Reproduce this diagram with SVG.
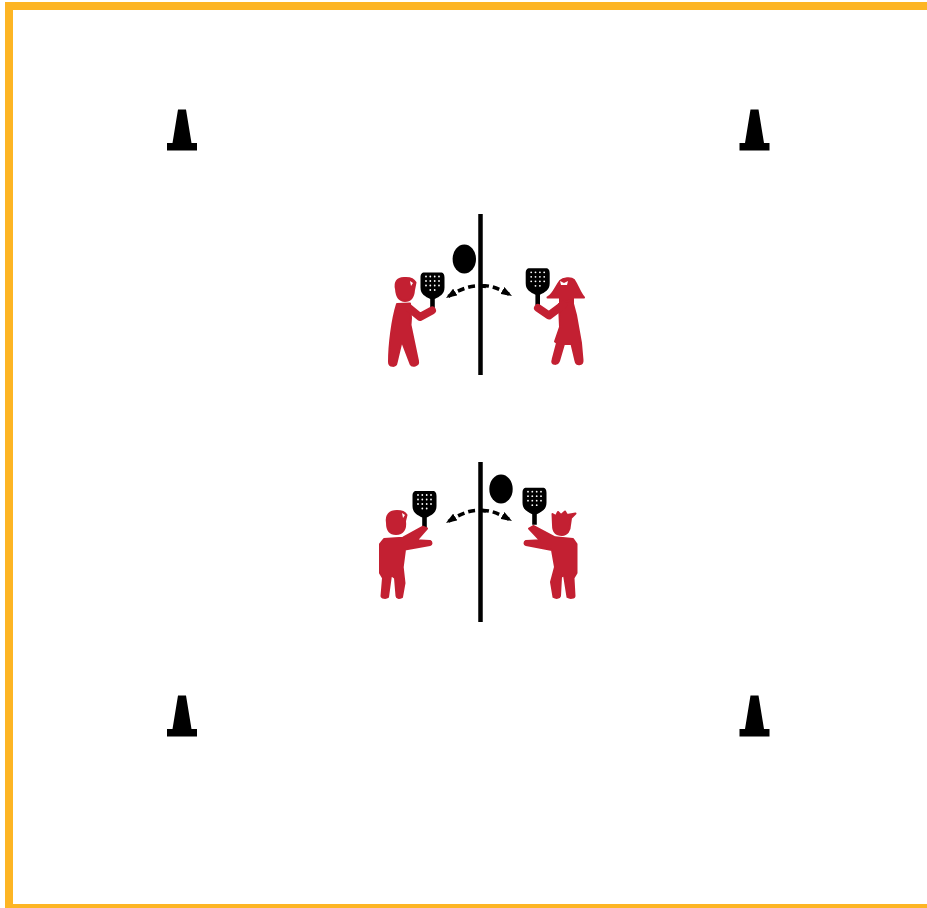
<svg xmlns="http://www.w3.org/2000/svg" width="927" height="908" viewBox="0 0 927 908">
<style>
.red{fill:#c32032;stroke:#c32032;stroke-width:2;stroke-linejoin:round}
.limb{fill:none;stroke:#c32032;stroke-linecap:round;stroke-linejoin:round}
.net{stroke:#000;stroke-width:4.500;fill:none}
.arc{fill:none;stroke:#000;stroke-width:3.500;stroke-dasharray:7 4}
.dot{fill:#fff}
</style>
<defs>
<marker id="ah" markerUnits="userSpaceOnUse" markerWidth="12" markerHeight="8" refX="11" refY="4" orient="auto"><path d="M0,0L11,4L0,8Z" fill="#000"/></marker>
<g id="cone"><path d="M-4,0H4L9.500,33.500H15V41H-15V33.500H-9.500Z" fill="#000"/></g>
<g id="paddle">
<path d="M-8,0H8C11,0 12,2 12,5V15C12,22 7,24 2.300,26.500V37H-2.300V26.500C-7,24 -12,22 -12,15V5C-12,2 -11,0 -8,0Z" fill="#000"/>
<g class="dot"><circle cx="-6.500" cy="4" r=".9"/><circle cx="-2.200" cy="4" r=".9"/><circle cx="2.200" cy="4" r=".9"/><circle cx="6.500" cy="4" r=".9"/><circle cx="-6.500" cy="8.500" r=".9"/><circle cx="-2.200" cy="8.500" r=".9"/><circle cx="2.200" cy="8.500" r=".9"/><circle cx="6.500" cy="8.500" r=".9"/><circle cx="-6.500" cy="13" r=".9"/><circle cx="-2.200" cy="13" r=".9"/><circle cx="2.200" cy="13" r=".9"/><circle cx="6.500" cy="13" r=".9"/><circle cx="-2.200" cy="17.500" r=".9"/><circle cx="2.200" cy="17.500" r=".9"/></g>
</g>
</defs>
<rect width="927" height="908" fill="#fff"/>
<g id="border" fill="#fdb524"><rect x="5" y="2" width="922" height="8"/><rect x="5" y="2" width="8" height="906"/><rect x="5" y="904" width="922" height="4"/></g>
<g id="cone-tl"><use href="#cone" x="182" y="109.500"/></g>
<g id="cone-tr"><use href="#cone" x="754.500" y="109.500"/></g>
<g id="cone-bl"><use href="#cone" x="182" y="695.500"/></g>
<g id="cone-br"><use href="#cone" x="754.500" y="695.500"/></g>
<g id="net-top"><line class="net" x1="480.500" y1="214" x2="480.500" y2="375"/></g>
<g id="net-bottom"><line class="net" x1="480.500" y1="462" x2="480.500" y2="622"/></g>
<g id="ball-top"><ellipse cx="464.300" cy="259" rx="11.700" ry="14.500" fill="#000"/></g>
<g id="ball-bottom"><ellipse cx="501" cy="489" rx="11.700" ry="14.500" fill="#000"/></g>
<g id="connectors">
<path class="arc" d="M486,286.500C472,284 460,289 446,298" marker-end="url(#ah)"/>
<path class="arc" d="M482,286C490,285 498,288 512,296" marker-end="url(#ah)"/>
<path class="arc" d="M486,511C472,508 460,514 446,523" marker-end="url(#ah)"/>
<path class="arc" d="M482,510.500C490,510 498,513 512,521" marker-end="url(#ah)"/>
</g>
<g id="player-top-left">
<use href="#paddle" x="432.500" y="272.500"/>
<path class="red" d="M396,289C394.500,282 397,278.500 404,278C410,277.500 414,279.500 415.500,282.500L414,290C413.500,297 411,301 405,301C399,301 396.500,296 396,289Z"/>
<path d="M410,281L413,283L411,286Z" fill="#fff"/>
<path class="red" d="M397,304L410,303.500L411,318L410.500,325L418,361C419,366 412,367 410.500,364L401.700,341L396.500,363C396,367 389,367 389,362C389,345 392,320 397,304Z"/>
<path class="limb" stroke-width="8" d="M409,308L420,317L432,310.500"/>
</g>
<g id="player-top-right">
<use href="#paddle" x="537.700" y="268.300"/>
<path class="red" d="M547.500,297.500C553,295 556,286 560,281C563,278 571,277 574,280C578,286 580,293 584,297.500Z"/>
<path class="red" d="M560,298H573V304H560Z"/>
<path d="M560,281L564,283L568,281L567,285H561Z" fill="#fff"/>
<path class="red" d="M559,304L572,300L576,315L581,343L582.500,360C583,365 576,366 575.500,361L571.500,344L564,344L559,361C557.500,365 551,365 552.500,360L557,343L555,341.500L560,327Z"/>
<path class="limb" stroke-width="8" d="M563,305L549,315.500L538,308"/>
</g>
<g id="player-bottom-left">
<use href="#paddle" x="424.500" y="491"/>
<path class="red" d="M387,523C385.500,515 390,511 397,511C402,511 405,512.500 406.500,515L405,521C406,529 403,534 396,534C390,534 387,530 387,523Z"/>
<path d="M402,513L405,515L403,518Z" fill="#fff"/>
<path class="red" d="M384,539L403,537.700L423,526.700L427,528.500L416.700,540.300L430,541C432,542 432,544.500 430,545L405,549.500L402.700,567L404.500,583L402,597C399,598.500 396.500,598 396.500,596L395,578L391,575L388,597C386,598.500 381.500,598 381.500,596L383,578L380,573V544Z"/>
</g>
<g id="player-bottom-right">
<use href="#paddle" x="534.500" y="487.700"/>
<path class="red" d="M553,525L552.500,514L556,516L558,512L561,515L565,511.500L567,515L575.500,513.500L571,518L570,525C570,531 567,535 562,535C556,535 553,531 553,525Z"/>
<path class="red" d="M573,539L555,537.300L533.300,526L529,528.500L540,540.300L526,541C524,542 524,544.500 526,545L552,550L555,567L551,582L553.500,597C556,598.500 559.500,598 560,596L561,577L564,575L567.500,597C570,598.500 574.500,598 574.500,596L573.500,578L576.500,573V544Z"/>
</g>
</svg>
